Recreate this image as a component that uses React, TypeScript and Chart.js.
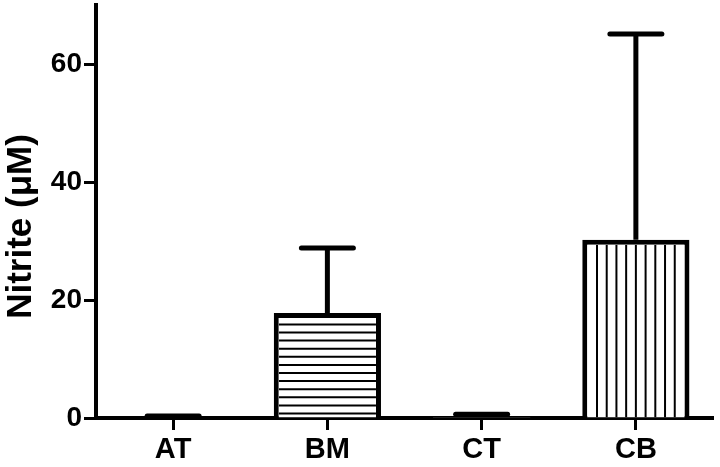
import React, { useEffect, useRef } from "react";
import { Chart, registerables } from "chart.js";

Chart.register(...registerables);

const categories = ["AT", "BM", "CT", "CB"];
const means = [0.1, 17.8, 0.2, 30.2];
const errors = [0.25, 11.0, 0.45, 34.9];
const patterns = ["none", "horizontal", "none", "vertical"];
const yTicks = [0, 20, 40, 60];
const yMin = 0;
const yMax = 70;
const yTitle = "Nitrite (\u03bcM)";

const FONT = "'Liberation Sans', Arial, Helvetica, sans-serif";

const hatchErrPlugin = {
  id: "hatchErr",
  afterDatasetsDraw(chart: any) {
    const ctx = chart.ctx;
    const meta = chart.getDatasetMeta(0);
    const yScale = chart.scales.y;
    meta.data.forEach((bar: any, i: number) => {
      const { x, y, base, width } = bar.getProps(["x", "y", "base", "width"], true);
      const bw = 5;
      const left = x - width / 2 + bw;
      const right = x + width / 2 - bw;
      const top = y + bw;
      const bottom = base;
      if (bottom > top && patterns[i] !== "none") {
        ctx.save();
        ctx.beginPath();
        ctx.rect(left, top, right - left, bottom - top);
        ctx.clip();
        ctx.strokeStyle = "#000";
        ctx.lineWidth = 2;
        ctx.beginPath();
        if (patterns[i] === "horizontal") {
          for (let yy = bottom - 4; yy > top; yy -= 8.1) {
            ctx.moveTo(left, yy);
            ctx.lineTo(right, yy);
          }
        } else {
          const n = 10;
          const step = (right - left) / n;
          for (let k = 1; k < n; k++) {
            const xx = left + k * step;
            ctx.moveTo(xx, top);
            ctx.lineTo(xx, bottom);
          }
        }
        ctx.stroke();
        ctx.restore();
      }
      const yErr = yScale.getPixelForValue(means[i] + errors[i]);
      ctx.save();
      ctx.strokeStyle = "#000";
      ctx.lineWidth = 5;
      ctx.lineCap = "butt";
      ctx.beginPath();
      ctx.moveTo(x, y);
      ctx.lineTo(x, yErr);
      ctx.stroke();
      ctx.lineCap = "round";
      ctx.beginPath();
      ctx.moveTo(x - 26, yErr);
      ctx.lineTo(x + 26, yErr);
      ctx.stroke();
      ctx.restore();
    });
  },
};

const yTitlePlugin = {
  id: "yTitleCustom",
  afterDraw(chart: any) {
    const ctx = chart.ctx;
    const area = chart.chartArea;
    ctx.save();
    ctx.translate(21, (area.top + area.bottom) / 2 + 15);
    ctx.rotate(-Math.PI / 2);
    ctx.textAlign = "center";
    ctx.textBaseline = "middle";
    ctx.fillStyle = "#000";
    ctx.font = `bold 35px ${FONT}`;
    ctx.fillText(yTitle, 0, 0);
    ctx.restore();
  },
};

export default function App() {
  const ref = useRef<HTMLCanvasElement | null>(null);

  useEffect(() => {
    document.body.style.margin = "0";
    const canvas = ref.current;
    if (!canvas) return;
    const chart = new Chart(canvas, {
      type: "bar",
      data: {
        labels: categories,
        datasets: [
          {
            data: means,
            backgroundColor: "#ffffff",
            borderColor: "#000000",
            borderWidth: 5,
            borderSkipped: "bottom",
            categoryPercentage: 1,
            barPercentage: 0.695,
          },
        ],
      },
      options: {
        animation: false,
        responsive: false,
        maintainAspectRatio: false,
        layout: { padding: { left: 44, top: 5, right: 7, bottom: 0 } },
        plugins: {
          legend: { display: false },
          tooltip: { enabled: false },
        },
        scales: {
          x: {
            afterFit: (s: any) => {
              s.height = 49;
              s.paddingLeft = 0;
              s.paddingRight = 0;
            },
            border: { display: true, color: "#000", width: 4 },
            grid: {
              display: true,
              drawOnChartArea: false,
              drawTicks: true,
              tickLength: 12,
              tickWidth: 3,
              tickColor: "#000",
              color: "#000",
              offset: false,
            },
            ticks: {
              color: "#000",
              padding: 3,
              font: { family: FONT, size: 29, weight: "bold" },
            },
          },
          y: {
            min: yMin,
            max: yMax,
            afterFit: (s: any) => {
              s.width = 52;
              s.paddingTop = 0;
              s.paddingBottom = 0;
            },
            afterBuildTicks: (s: any) => {
              s.ticks = yTicks.map((v) => ({ value: v }));
            },
            border: { display: true, color: "#000", width: 4 },
            grid: {
              display: true,
              drawOnChartArea: false,
              drawTicks: true,
              tickLength: 12,
              tickWidth: 3,
              tickColor: "#000",
              color: "#000",
            },
            ticks: {
              color: "#000",
              padding: 2,
              font: { family: FONT, size: 28, weight: "bold" },
            },
          },
        },
      },
      plugins: [hatchErrPlugin, yTitlePlugin],
    });
    return () => chart.destroy();
  }, []);

  return (
    <div style={{ width: 720, height: 467 }}>
      <canvas ref={ref} width={720} height={467} style={{ display: "block" }} />
    </div>
  );
}
